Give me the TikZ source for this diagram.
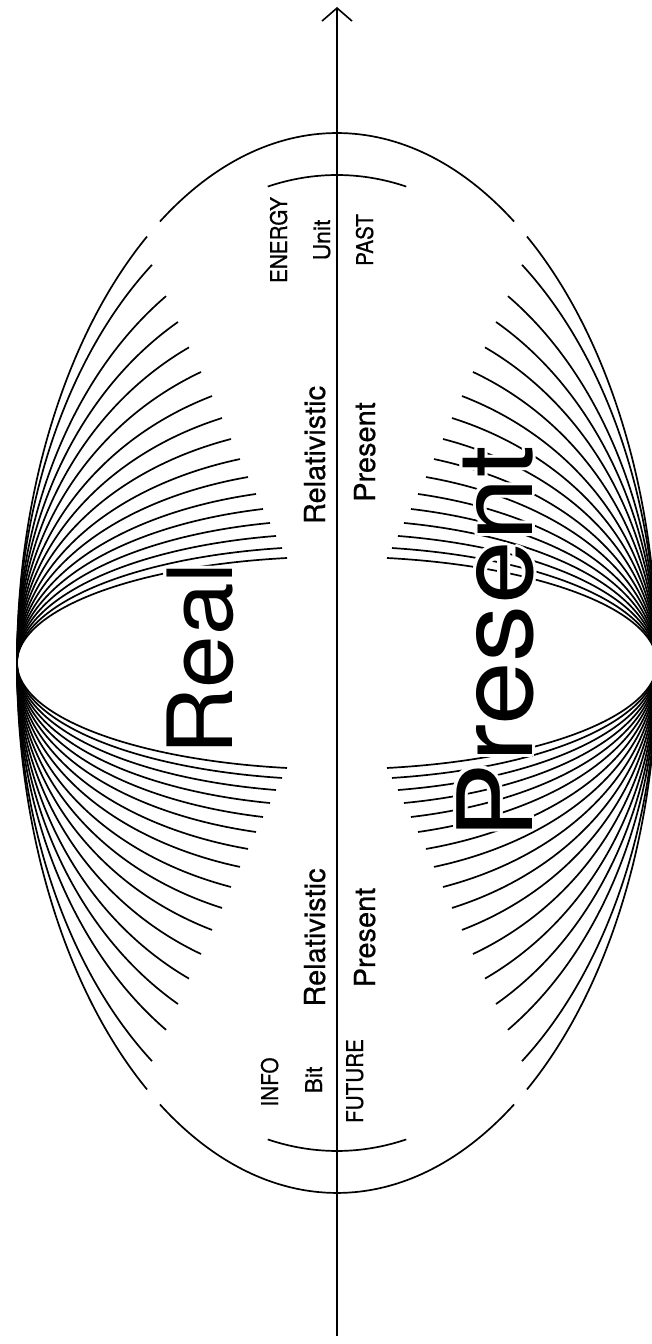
\documentclass[tikz,border=0pt]{standalone}
\usepackage{fontspec}
\setmainfont{TeX Gyre Heros}
\newfontfamily\medfam[FakeBold=0.6]{TeX Gyre Heros}
\usetikzlibrary{arrows.meta}
\newcommand\halotxt[1]{%
  \rlap{\color{white}\kern3pt #1}%
  \rlap{\color{white}\kern-3pt #1}%
  \rlap{\color{white}\raisebox{3pt}{#1}}%
  \rlap{\color{white}\raisebox{-3pt}{#1}}%
  \rlap{\color{white}\kern2.1pt\raisebox{2.1pt}{#1}}%
  \rlap{\color{white}\kern2.1pt\raisebox{-2.1pt}{#1}}%
  \rlap{\color{white}\kern-2.1pt\raisebox{2.1pt}{#1}}%
  \rlap{\color{white}\kern-2.1pt\raisebox{-2.1pt}{#1}}%
  #1}
\newcommand\narrow[1]{\scalebox{0.9}[1]{#1}}
\begin{document}
\begin{tikzpicture}[x=1pt,y=1pt,
  arcline/.style={line width=1.7pt},
  lbl/.style={rotate=90, anchor=base, inner sep=0pt},
  bigfont/.style={font=\fontsize{90}{90}\selectfont},
  hugefont/.style={font=\fontsize{104}{104}\selectfont},
  midfont/.style={font=\medfam\fontsize{29}{29}\selectfont},
  smallfont/.style={font=\medfam\fontsize{23}{23}\selectfont}
]
\useasboundingbox (0,0) rectangle (652,1344);
\fill[white] (0,0) rectangle (652,1344);
\coordinate (C) at (337,681);
\coordinate (axbot) at (337,8);
\coordinate (axtop) at (337,1337);
% family of ellipses through the two pinch points
\foreach \b/\d in {530/190, 488/185, 434/171, 393/159, 356/148, 321.5/136, 290/125,
  262.5/115, 237.4/106, 214/97, 193.6/89, 174.7/81, 158.3/74, 143.2/67, 129.4/61,
  116.7/55, 106.3/50}{
  \pgfmathsetmacro\p{acos(\d/320)}
  \pgfmathsetmacro\q{180-\p}
  \pgfmathsetmacro\r{180+\p}
  \pgfmathsetmacro\m{-\p}
  \draw[arcline] (C) ++(\m:320pt and \b pt) arc[start angle=\m, end angle=\p, x radius=320pt, y radius=\b pt];
  \draw[arcline] (C) ++(\q:320pt and \b pt) arc[start angle=\q, end angle=\r, x radius=320pt, y radius=\b pt];
}
% top and bottom caps
\draw[arcline] (C) ++(56.4:320pt and 530pt) arc[start angle=56.4, end angle=123.6, x radius=320pt, y radius=530pt];
\draw[arcline] (C) ++(236.4:320pt and 530pt) arc[start angle=236.4, end angle=303.6, x radius=320pt, y radius=530pt];
\draw[arcline] (C) ++(77.5:320pt and 488pt) arc[start angle=77.5, end angle=102.5, x radius=320pt, y radius=488pt];
\draw[arcline] (C) ++(257.5:320pt and 488pt) arc[start angle=257.5, end angle=282.5, x radius=320pt, y radius=488pt];
% axis
\draw[line width=1.6pt, -{Straight Barb[length=13pt,width=30pt]}] (axbot) -- (axtop);
% texts
\node[lbl, bigfont] (real) at (232,685) {\halotxt{\scalebox{1.05}[1]{Real}}};
\node[lbl, hugefont] (presentbig) at (532,701.5) {\halotxt{\scalebox{1.1}[1]{Present}}};
\node[lbl, smallfont] (energy) at (287,1104) {\narrow{ENERGY}};
\node[lbl, smallfont] (unit) at (330,1104) {Unit};
\node[lbl, smallfont] (past) at (373,1104) {\narrow{PAST}};
\node[lbl, midfont] (relup) at (325,889) {Relativistic};
\node[lbl, midfont] (presup) at (375,892) {Present};
\node[lbl, midfont] (reldown) at (325,406.5) {Relativistic};
\node[lbl, midfont] (presdown) at (375,406.5) {Present};
\node[lbl, smallfont] (info) at (278,262) {\narrow{INFO}};
\node[lbl, smallfont] (bit) at (322,264) {Bit};
\node[lbl, smallfont] (future) at (363,263) {\narrow{FUTURE}};
\end{tikzpicture}
\end{document}
